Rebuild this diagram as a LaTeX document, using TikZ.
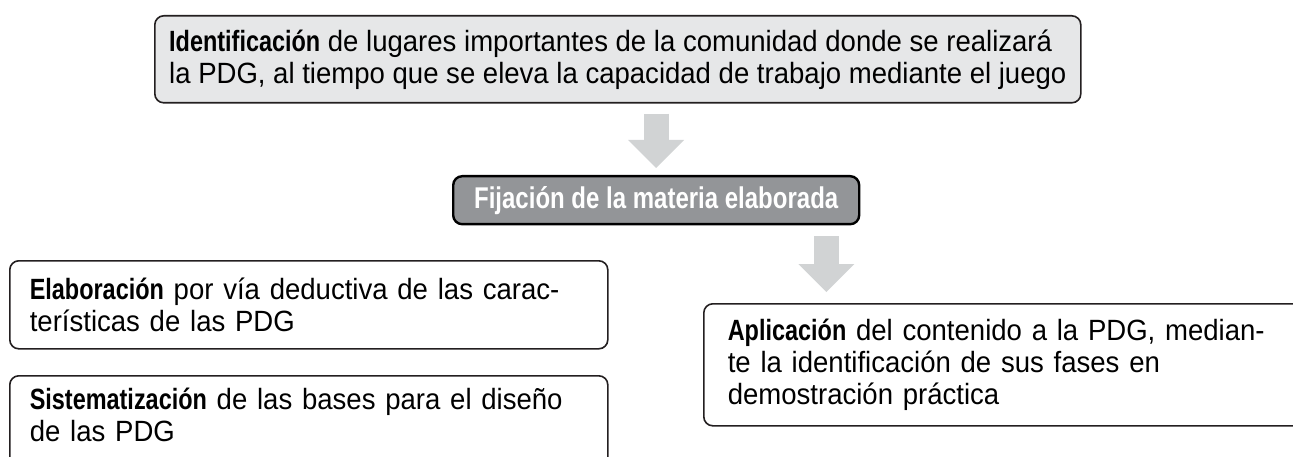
\documentclass[tikz,border=0pt]{standalone}
\usepackage{fontspec}
\setmainfont{Liberation Sans}[FakeStretch=0.94]
\newfontfamily\boldcond{Liberation Sans}[FakeStretch=0.8]
\usepackage{tikz}
\usetikzlibrary{
    arrows.meta            % Block arrow tips
}
\definecolor{boxline}{HTML}{231F20}
\definecolor{topgray}{HTML}{E6E7E8}
\definecolor{keygray}{HTML}{939598}
\definecolor{arrowgray}{HTML}{D1D3D4}
\newcommand{\bodysize}{\fontsize{29.3}{32}\selectfont}
\newcommand{\kw}[1]{{\boldcond\bfseries #1}}

\begin{document}
\begin{tikzpicture}[x=1pt,y=-1pt,
    panel/.style={draw=boxline,line width=1.6pt,rounded corners=9pt,anchor=north west,
        align=left,inner xsep=18pt,font=\bodysize},
    keybox/.style={panel,draw=black,line width=2.4pt,fill=keygray,align=center,inner xsep=10pt,
        text=white,font=\fontsize{30}{32}\selectfont\boldcond\bfseries},
    blockarrow/.style={draw=arrowgray,line width=25pt,
        -{Triangle[length=28pt,width=56pt,line width=0pt]}}]
    \path[use as bounding box,clip] (0,0) rectangle (1293,457);
    % boxes
    \node[panel,fill=topgray,inner xsep=13pt,minimum width=926pt,minimum height=87pt] (ident) at (154,15)
        {\kw{Identificación} de lugares importantes de la comunidad donde se realizará\\
         la PDG, al tiempo que se eleva la capacidad de trabajo mediante el juego};
    \node[keybox,minimum width=406pt,minimum height=48pt] (fij) at (452,175)
        {Fijación de la materia elaborada};
    \node[panel,inner xsep=20pt,minimum width=598pt,minimum height=88pt,text width=558pt] (elab) at (9,260)
        {\kw{Elaboración} por vía deductiva de las carac-\\
         terísticas de las PDG};
    \node[panel,inner xsep=20pt,inner ysep=12pt,minimum width=598pt,text width=558pt] (sist) at (9,375)
        {\kw{Sistematización} de las bases para el diseño\\
         de las PDG\rule[-40pt]{0pt}{40pt}};
    \node[panel,inner xsep=24pt,minimum height=122pt,text width=620pt] (apl) at (703,303)
        {\kw{Aplicación} del contenido a la PDG, median-\\
         te la identificación de sus fases en\\
         demostración práctica};
    % arrows
    \draw[blockarrow] ([yshift=-10pt]ident.south -| fij.north) -- ([yshift=7pt]fij.north);
    \coordinate (a2) at ([xshift=-34pt]fij.south east);
    \draw[blockarrow] ([yshift=-11pt]a2) -- ([yshift=11pt]a2 |- apl.north);
\end{tikzpicture}
\end{document}
